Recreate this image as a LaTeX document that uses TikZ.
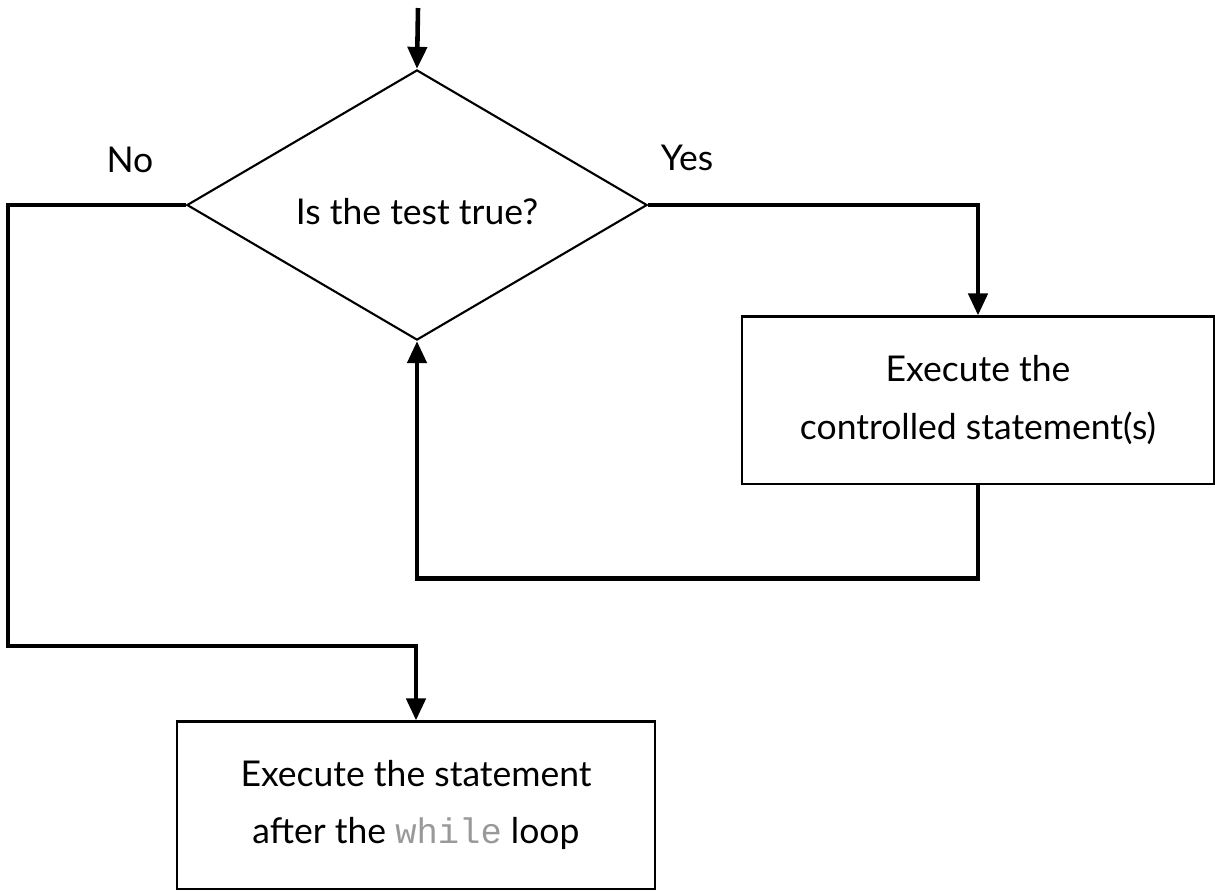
\documentclass[tikz,border=0pt]{standalone}
\usepackage{fontspec}
\setmainfont{Lato}
\setmonofont{Liberation Mono}
\usetikzlibrary{arrows.meta, shapes.geometric}

\begin{document}
\begin{tikzpicture}[
    x=0.01cm, y=-0.01cm,
    every node/.style={font=\fontsize{10.1}{16.4}\selectfont},
    decision/.style={diamond, draw, line width=0.6pt, minimum width=4.6cm, minimum height=2.7cm, inner sep=0pt, align=center},
    action/.style={rectangle, draw, line width=0.6pt, minimum height=1.67cm, align=center},
    arrow/.style={-{Triangle[length=2.2mm, width=1.9mm]}, line width=1.3pt},
    yesno/.style={inner sep=0pt}
]
\useasboundingbox (0,0) rectangle (1215,890);

% Loop test
\coordinate (entry) at (418,8);
\node[decision] (test) at (417,205) {\raisebox{-1.1ex}[0pt][0pt]{Is the test true?}};

% Loop body and exit
\node[action, minimum width=4.72cm] (body) at (978,400) {Execute the\\controlled statement(s)};
\node[action, minimum width=4.77cm] (after) at (416,805) {Execute the statement\\after the \textcolor{gray!80}{\texttt{while}} loop};

% Branch labels
\node[yesno] (no) at (130,160) {No};
\node[yesno] (yes) at (687,158) {Yes};

% Connectors
\coordinate (noleft) at (8,646);
\draw[arrow] (entry) -- (test.north);
\draw[arrow] (test.east) -| (body.north);
\draw[arrow] (body.south) -- ++(0,94) -| (test.south);
\draw[arrow] (test.west) -| (noleft) -| (after.north);

\end{tikzpicture}
\end{document}
